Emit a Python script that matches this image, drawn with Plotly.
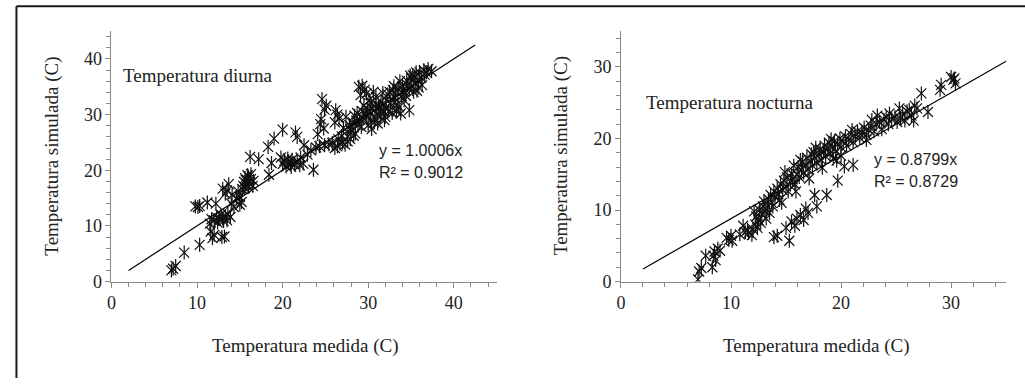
import plotly.graph_objects as go

# ---------------- data ----------------
diurna = [
    (7.0,2.0),(7.2,2.3),(7.5,2.8),(8.5,5.2),(10.3,6.6),
    (9.8,13.5),(10.1,13.4),(10.3,13.6),(11.2,14.2),(12.2,14.0),
    (11.6,9.0),(11.8,7.8),(12.0,8.4),(12.9,8.0),(13.2,8.1),
    (11.5,10.4),(11.7,11.2),(12.0,11.0),(12.3,11.5),(12.6,11.2),(12.8,12.0),(13.0,11.4),
    (13.3,11.8),(13.6,12.1),(13.9,11.6),(13.5,11.0),(12.4,10.6),(13.1,10.9),
    (13.0,16.7),(13.3,15.8),(13.7,17.5),(13.5,16.4),(14.0,14.0),(14.3,13.4),(14.6,15.0),
    (14.1,15.6),(14.8,16.2),(15.0,13.8),(15.2,14.3),(15.0,15.2),(15.3,16.6),(15.4,17.2),
    (15.5,17.9),(15.6,18.6),(15.8,17.5),(16.0,18.9),(16.1,17.8),(16.3,18.4),(15.9,19.1),
    (16.3,19.3),(15.6,16.8),(16.6,18.1),(16.5,17.2),(15.7,18.2),(16.0,17.0),
    (16.2,22.4),(17.2,22.0),(18.4,19.2),(18.3,24.2),(19.0,25.7),(20.0,27.3),(18.7,21.3),
    (19.8,22.3),(20.0,21.1),(20.2,21.7),(20.4,20.7),(20.6,22.1),(20.9,21.3),(21.1,21.9),
    (21.4,21.0),(21.7,21.6),(22.0,20.9),(22.1,22.3),(21.0,20.6),(20.7,21.6),(22.4,21.2),
    (21.5,26.8),(21.7,26.0),(22.5,24.5),(22.9,22.8),(23.6,20.1),(23.3,23.6),(23.9,24.1),
    (24.3,24.3),(24.6,32.8),(24.4,28.3),(24.1,26.5),(24.5,29.2),(24.9,30.9),(25.1,31.6),
    (24.8,27.5),(24.9,24.5),(25.4,24.7),(25.8,24.9),(26.1,24.0),(26.4,24.3),(26.7,24.8),
    (27.0,25.0),(27.3,24.6),(27.6,25.2),(27.9,25.6),
    (26.2,30.8),(26.4,30.0),(26.1,28.6),(26.6,29.3),(26.5,25.6),(26.9,26.1),(27.1,27.6),
    (27.4,29.6),(27.8,28.1),(27.6,26.1),(28.0,27.1),(28.2,28.6),(28.5,26.6),(28.8,28.1),
    (28.4,29.8),(29.0,29.1),
    (28.9,35.0),(29.3,35.2),(29.6,34.5),(29.1,33.5),(29.8,33.8),(29.5,31.6),(29.3,30.6),
    (29.8,29.6),(30.0,28.1),(30.2,30.6),(30.5,31.1),(30.1,32.6),(30.6,34.1),(30.8,29.3),
    (31.0,30.1),(31.2,31.6),(30.4,27.4),(30.7,28.6),(31.4,29.6),(31.5,32.3),(31.8,30.6),
    (32.0,31.1),(32.3,33.6),(32.5,34.1),(32.0,29.6),(32.8,30.3),(33.0,32.1),(33.2,33.6),
    (33.5,34.6),(33.0,35.1),(33.6,31.3),(33.8,30.2),(34.2,32.6),(34.0,35.1),(34.5,36.1),
    (34.8,30.8),(34.8,34.6),(35.0,36.6),(35.2,37.1),(35.5,35.6),(35.3,34.1),(35.8,36.3),
    (36.0,37.6),(36.2,36.6),(36.5,38.0),(36.8,37.6),(37.4,37.8),(37.0,38.2),(35.6,37.6),
    (34.6,35.3),(33.9,33.3),(32.6,32.1),(31.6,30.9),(30.9,31.9),(29.7,30.2),(28.6,28.9),
    (27.9,27.4),(28.3,26.2),(29.2,27.8),(30.3,29.0),(31.1,28.4),(31.9,29.0),(32.4,30.6),
    (33.4,31.8),(34.4,33.4),(35.1,35.0),(36.3,35.3),(35.9,34.9),(34.1,34.3),(33.1,33.0),
    (32.1,32.6),(31.3,31.2),(30.3,32.1),(29.9,31.0),(29.4,29.4),(28.7,30.3),(30.9,33.2),
    (31.7,33.9),(32.9,34.4),(33.7,36.0),(35.4,36.8),(36.6,37.2),(34.9,37.0),(35.7,34.3),
    (33.3,30.6),
]

nocturna = [
    (7.0,0.3),(7.1,1.4),(7.3,1.9),(7.7,3.6),(8.3,2.0),(8.4,3.6),(8.5,4.2),(8.8,4.6),(8.6,3.0),
    (9.0,4.3),(9.6,6.1),(9.8,5.8),(10.1,5.7),(10.0,6.4),(10.8,6.6),(11.1,7.8),(11.3,6.9),
    (11.5,7.2),(11.9,6.5),(12.0,7.3),(12.2,8.0),(12.3,9.1),(12.1,9.8),(12.5,8.6),(12.6,10.0),
    (12.8,9.4),(12.4,7.5),(12.9,10.5),(13.0,11.2),(13.1,9.8),(13.3,10.4),(13.4,11.5),
    (13.6,12.1),(13.2,8.8),(13.7,11.0),(13.9,12.6),(13.8,10.5),(14.0,11.8),(14.2,13.0),
    (14.3,12.2),(14.5,13.6),(14.4,11.4),(14.7,12.8),(14.8,14.1),(15.0,13.3),(15.1,14.6),
    (15.2,12.6),(15.4,13.9),(15.5,15.1),(15.6,14.3),(15.7,16.2),(15.8,13.6),(16.0,15.0),
    (16.1,16.0),(16.2,14.6),(16.4,15.6),(16.5,16.8),(16.6,15.2),(16.8,16.3),(16.9,17.3),
    (17.0,15.7),(17.2,16.8),(17.3,17.8),(17.4,16.2),(17.6,17.3),(17.7,18.7),(17.8,16.6),
    (18.0,17.8),(18.1,18.5),(18.2,17.0),(18.4,18.2),(18.5,19.0),(18.6,17.5),(18.8,18.6),
    (18.9,19.4),(19.0,17.9),(19.2,18.8),(19.4,19.6),(19.5,18.2),(19.7,19.2),(19.9,20.0),
    (20.0,18.8),(20.2,19.6),(20.4,20.3),(20.5,19.0),(20.7,19.8),(20.9,20.6),(21.1,19.5),
    (21.3,20.3),(21.5,21.0),(21.7,20.1),(21.9,20.8),(22.1,21.5),(22.3,20.5),(22.5,21.2),
    (22.3,19.8),(22.7,21.8),(23.0,21.0),(23.2,22.0),(23.3,23.2),(23.5,22.3),(23.7,21.3),
    (23.9,22.6),(24.1,23.0),(24.3,22.0),(24.4,23.5),(24.6,22.7),(24.9,23.0),(25.1,22.3),
    (25.3,24.2),(25.4,22.8),(25.6,23.4),(25.8,22.5),(26.0,23.8),(26.2,24.0),(26.4,23.2),
    (26.6,22.5),(26.7,24.6),(26.9,24.2),(27.3,26.3),(27.9,23.7),(29.0,26.8),(29.1,27.5),
    (30.0,28.6),(30.2,28.2),(30.4,27.7),(30.3,28.4),
    (13.9,6.2),(14.2,6.4),(15.3,5.7),(15.0,7.5),(15.5,8.4),(15.8,7.8),(16.0,8.8),(16.3,9.3),
    (16.6,8.6),(16.8,10.2),(17.0,9.6),(17.6,12.1),(17.8,10.5),(18.7,12.1),(19.7,14.1),
    (20.3,16.1),(21.1,16.3),(19.6,16.9),(20.0,17.6),
    (11.6,6.8),(12.7,8.2),(13.5,9.6),(14.6,11.0),(15.9,12.6),(17.1,14.4),(18.3,15.9),
    (19.3,17.2),(14.9,15.3),(16.3,17.0),(17.5,18.1),(19.1,19.9),(21.0,21.2),(22.8,22.6),
]

slope_diurna = 1.0006
slope_nocturna = 0.8799
trend_x_diurna = [2.0, 42.5]
trend_x_nocturna = [2.0, 35.0]

labels = {
    "x": "Temperatura medida (C)",
    "y": "Temperatura simulada (C)",
    "d": "Temperatura diurna",
    "n": "Temperatura nocturna",
}

# ---------------- figure ----------------
W, H = 1025, 388
fig = go.Figure()

def add_series(pts, xa, ya):
    xs = [p[0] for p in pts]
    ys = [p[1] for p in pts]
    for sym in ("x-thin", "line-ns"):
        fig.add_trace(go.Scatter(
            x=xs, y=ys, mode="markers", xaxis=xa, yaxis=ya, showlegend=False,
            marker=dict(symbol=sym, size=10, color="black",
                        line=dict(color="#111", width=1.2)),
        ))

add_series(diurna, "x", "y")
add_series(nocturna, "x2", "y2")

fig.add_trace(go.Scatter(x=trend_x_diurna, y=[slope_diurna * v for v in trend_x_diurna],
                         mode="lines", line=dict(color="black", width=1.2),
                         xaxis="x", yaxis="y", showlegend=False))
fig.add_trace(go.Scatter(x=trend_x_nocturna, y=[slope_nocturna * v for v in trend_x_nocturna],
                         mode="lines", line=dict(color="black", width=1.2),
                         xaxis="x2", yaxis="y2", showlegend=False))

serif = "Liberation Serif, Times New Roman, serif"
sans = "Liberation Sans, Arial, sans-serif"

ybot = (H - 289) / H
ytop = (H - 32) / H

def axis(rng, domain, anchor):
    return dict(
        range=rng, domain=domain, anchor=anchor, dtick=10, tick0=0,
        showgrid=False, zeroline=False, showline=True, linecolor="#8a8a8a", linewidth=1,
        ticks="outside", ticklen=5, tickcolor="#8a8a8a", tickwidth=1,
        minor=dict(dtick=2, tick0=0, ticks="outside", ticklen=4, tickcolor="#8a8a8a", tickwidth=1),
        tickfont=dict(family=serif, size=18, color="#222"),
        fixedrange=True,
    )

fig.update_layout(
    width=W, height=H,
    margin=dict(l=0, r=0, t=0, b=0),
    paper_bgcolor="white", plot_bgcolor="white",
    xaxis=axis([0, 45], [107 / W, 494 / W], "y"),
    yaxis=axis([0, 45], [ybot, ytop], "x"),
    xaxis2=axis([0, 35], [619 / W, 1006 / W], "y2"),
    yaxis2=axis([0, 35], [ybot, ytop], "x2"),
)

ann = []
def txt(x, y, s, font, size, angle=0, xanchor="center"):
    ann.append(dict(x=x / W, y=(H - y) / H, xref="paper", yref="paper", text=s,
                    showarrow=False, textangle=angle, xanchor=xanchor, yanchor="middle",
                    font=dict(family=font, size=size, color="#222")))

txt(301, 355, labels["x"], serif, 19)
txt(815, 355, labels["x"], serif, 19)
txt(47, 160, labels["y"], serif, 19, angle=-90)
txt(559, 160, labels["y"], serif, 19, angle=-90)
txt(117, 78, labels["d"], serif, 19, xanchor="left")
txt(642, 105, labels["n"], serif, 19, xanchor="left")
txt(374, 154, "y = %.4fx" % slope_diurna, sans, 16, xanchor="left")
txt(374, 177, "R² = 0.9012", sans, 16, xanchor="left")
txt(871, 164, "y = %.4fx" % slope_nocturna, sans, 16, xanchor="left")
txt(871, 186, "R² = 0.8729", sans, 16, xanchor="left")
fig.update_layout(annotations=ann)

# outer frame (left and top edges visible)
fig.add_shape(type="line", xref="paper", yref="paper",
              x0=11.5 / W, x1=11.5 / W, y0=0, y1=(H - 6.5) / H,
              line=dict(color="#1a1a1a", width=2))
fig.add_shape(type="line", xref="paper", yref="paper",
              x0=11.5 / W, x1=1, y0=(H - 6.5) / H, y1=(H - 6.5) / H,
              line=dict(color="#1a1a1a", width=2))

fig.write_html("out.html")
